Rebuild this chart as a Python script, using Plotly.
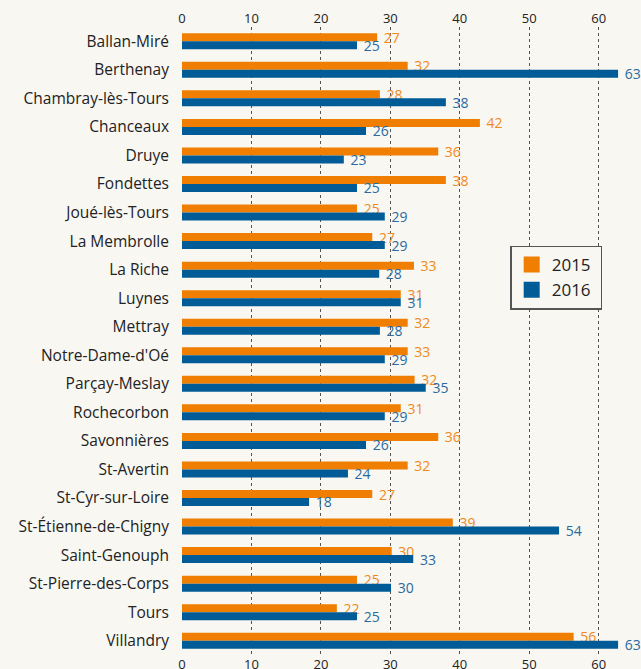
import plotly.graph_objects as go

communes = [
    "Ballan-Miré", "Berthenay", "Chambray-lès-Tours", "Chanceaux", "Druye",
    "Fondettes", "Joué-lès-Tours", "La Membrolle", "La Riche", "Luynes",
    "Mettray", "Notre-Dame-d'Oé", "Parçay-Meslay", "Rochecorbon", "Savonnières",
    "St-Avertin", "St-Cyr-sur-Loire", "St-Étienne-de-Chigny", "Saint-Genouph",
    "St-Pierre-des-Corps", "Tours", "Villandry",
]

# bar lengths as drawn
vals_2015 = [28.1, 32.5, 28.5, 42.9, 36.9, 38.0, 25.2, 27.4, 33.4, 31.5, 32.5,
             32.5, 33.5, 31.5, 36.9, 32.5, 27.4, 39.0, 30.2, 25.2, 22.3, 56.4]
vals_2016 = [25.2, 62.8, 38.0, 26.5, 23.3, 25.2, 29.2, 29.2, 28.4, 31.5, 28.5,
             29.2, 35.1, 29.2, 26.5, 23.9, 18.3, 54.3, 33.3, 30.1, 25.2, 62.8]

# printed labels
labels_2015 = [27, 32, 28, 42, 36, 38, 25, 27, 33, 31, 32, 33, 32, 31, 36, 32, 27, 39, 30, 25, 22, 56]
labels_2016 = [25, 63, 38, 26, 23, 25, 29, 29, 28, 31, 28, 29, 35, 29, 26, 24, 18, 54, 33, 30, 25, 63]

ticks = [0, 10, 20, 30, 40, 50, 60]

ORANGE = "#f07e00"
BLUE = "#005b97"
BG = "#f8f7f2"
FONT = "Open Sans"

fig = go.Figure()
for name, vals, labels, col, tcol in [
    ("2015", vals_2015, labels_2015, ORANGE, "#f08a1c"),
    ("2016", vals_2016, labels_2016, BLUE, "#2a6aa0"),
]:
    fig.add_trace(go.Bar(
        y=communes, x=vals, orientation="h", name=name,
        marker=dict(color=col, line=dict(width=0)),
        text=["\u00a0" + str(v) for v in labels],
        textposition="outside", constraintext="none", cliponaxis=False,
        textfont=dict(family=FONT, size=14, color=tcol),
        showlegend=False,
    ))
    # legend entry with a bigger square
    fig.add_trace(go.Scatter(
        x=[None], y=[None], mode="markers", name=name + "\u00a0",
        marker=dict(symbol="square", size=16, color=col),
    ))

fig.update_layout(
    width=641, height=669,
    margin=dict(l=182, r=0, t=27, b=14),
    paper_bgcolor=BG, plot_bgcolor=BG,
    barmode="group", bargap=0.44, bargroupgap=0,
    font=dict(family=FONT, size=14, color="#222"),
    legend=dict(
        x=0.715, y=0.652, xanchor="left", yanchor="top",
        bgcolor=BG, bordercolor="#555", borderwidth=1.5,
        font=dict(size=17, color="#222"), traceorder="normal",
        itemwidth=30,
    ),
    xaxis=dict(
        range=[0, 66.1], tickvals=ticks, showgrid=True, griddash="dot",
        gridcolor="#555", gridwidth=1, zeroline=False, showline=False,
        side="bottom", ticks="", automargin=False, ticklabelstandoff=0,
        tickfont=dict(size=13, color="#222"),
    ),
    xaxis2=dict(
        range=[0, 66.1], tickvals=ticks, overlaying="x", side="top",
        showgrid=False, zeroline=False, showline=False, ticks="",
        automargin=False, ticklabelstandoff=0, matches="x",
        tickfont=dict(size=13, color="#222"),
    ),
    yaxis=dict(
        autorange="reversed", showgrid=False, zeroline=False, ticks="",
        automargin=False, ticklabelstandoff=12,
        tickfont=dict(size=15.5, color="#222"),
    ),
)
# dummy trace to show the top axis
fig.add_trace(go.Scatter(x=[None], y=[None], xaxis="x2", showlegend=False, hoverinfo="skip"))

fig.write_html(
    "out.html",
    config={"displayModeBar": False},
    post_script="document.body.style.margin='0';document.body.style.overflow='hidden';",
)
